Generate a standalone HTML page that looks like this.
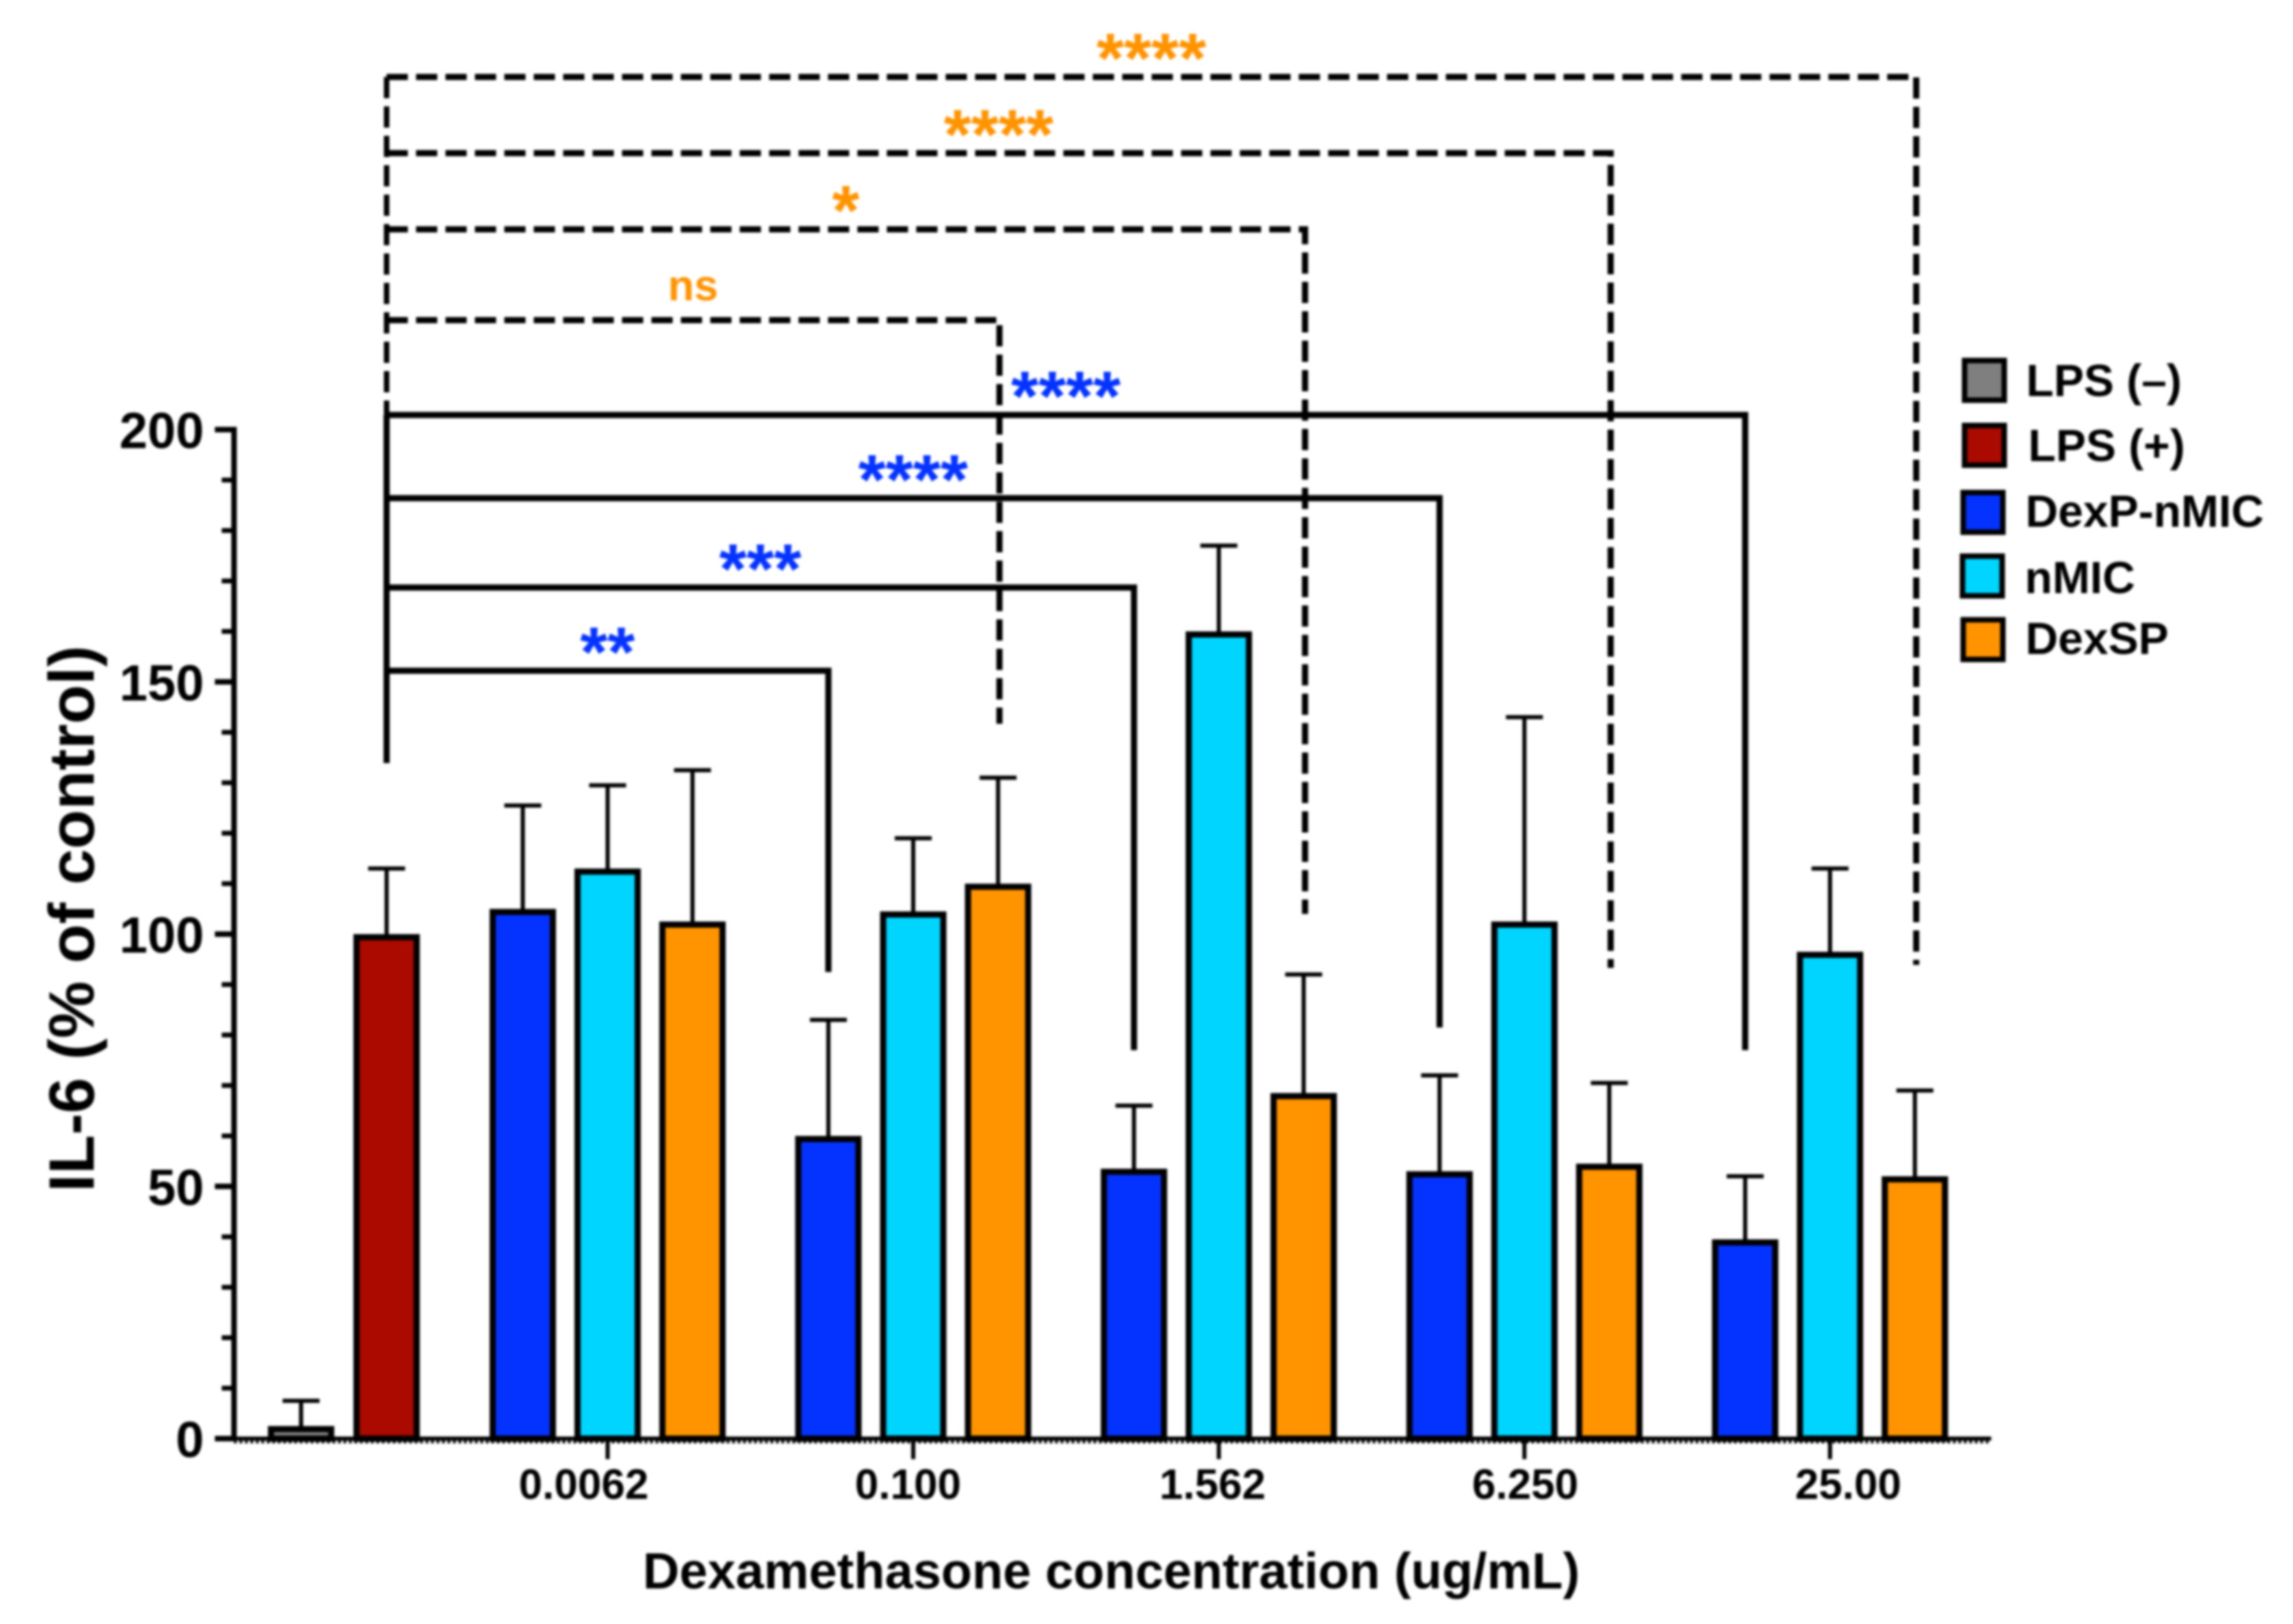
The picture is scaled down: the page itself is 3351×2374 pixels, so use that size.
<!DOCTYPE html>
<html lang="en">
<head>
<meta charset="utf-8">
<title>IL-6 bar chart</title>
<style>
html,body{margin:0;padding:0;background:#fff;}
svg{display:block;filter:blur(1.8px);}
text{font-family:"Liberation Sans",Arial,sans-serif;font-weight:bold;fill:#000;}
</style>
</head>
<body>
<svg id="chart" xmlns="http://www.w3.org/2000/svg" width="3351" height="2374" viewBox="0 0 3351 2374">
  <rect x="0" y="0" width="3351" height="2374" fill="#fff"/>
  <g id="bars"></g>
  <g id="axes"></g>
  <g id="brackets"></g>

  <text transform="translate(137,1343) rotate(-90)" text-anchor="middle" font-size="94">IL-6 (% of control)</text>
  <text x="1624" y="2322" text-anchor="middle" font-size="74">Dexamethasone concentration (ug/mL)</text>

  <text x="853" y="2191" text-anchor="middle" font-size="62">0.0062</text>
  <text x="1327" y="2191" text-anchor="middle" font-size="62">0.100</text>
  <text x="1772" y="2191" text-anchor="middle" font-size="62">1.562</text>
  <text x="2229" y="2191" text-anchor="middle" font-size="62">6.250</text>
  <text x="2701" y="2191" text-anchor="middle" font-size="62">25.00</text>

  <g>
    <g>
      <rect x="2871" y="527" width="58" height="58" fill="#7f7f7f" stroke="#000" stroke-width="8"/>
      <text x="2961" y="579" font-size="66">LPS (–)</text>
    </g>
    <g>
      <rect x="2871" y="622" width="58" height="58" fill="#aa0a00" stroke="#000" stroke-width="8"/>
      <text x="2964" y="674" font-size="66">LPS (+)</text>
    </g>
    <g>
      <rect x="2869" y="720" width="58" height="58" fill="#0433ff" stroke="#000" stroke-width="8"/>
      <text x="2960" y="770" font-size="66">DexP-nMIC</text>
    </g>
    <g>
      <rect x="2868" y="813" width="58" height="58" fill="#00d5ff" stroke="#000" stroke-width="8"/>
      <text x="2959" y="867" font-size="66">nMIC</text>
    </g>
    <g>
      <rect x="2869" y="906" width="58" height="58" fill="#ff9300" stroke="#000" stroke-width="8"/>
      <text x="2960" y="956" font-size="66">DexSP</text>
    </g>
  </g>
</svg>
<script>
// ---- data ----
const concentrations = ["0.0062", "0.100", "1.562", "6.250", "25.00"];
const controlNames = ["lps-negative", "lps-positive"];
const controlValues = [2.5, 100];
const controlErrors = [5, 13];
const dexpValues = [105, 60, 53.5, 53, 39.5];
const dexpErrors = [20.5, 23, 12.5, 19, 12.5];
const nmicValues = [113, 104.5, 160, 102.5, 96.5];
const nmicErrors = [16.5, 14.5, 17, 40.5, 16.5];
const dexspValues = [102.5, 110, 68.5, 54.5, 52];
const dexspErrors = [30, 21, 23.5, 16, 17];
const yTickLabels = [0, 50, 100, 150, 200];
const yMinorTicks = [10, 20, 30, 40, 60, 70, 80, 90, 110, 120, 130, 140, 160, 170, 180, 190];
// bracket heights and drop ends, in y-axis units
const solidLevels = [152.2, 168.7, 186.4, 202.9];
const solidDrops = [92.5, 77, 81.5, 77];
const solidLabels = ["**", "***", "****", "****"];
const dashedLevels = [221.7, 239.7, 254.8, 269.9];
const dashedDrops = [141.7, 104, 93.3, 93.9];
const dashedLabels = ["ns", "*", "****", "****"];
const bracketStartValue = 133.9;

// ---- scales ----
const NS = "http://www.w3.org/2000/svg";
const Y0 = 2103, UNIT = 7.375;
function yScale(v) { return Y0 - v * UNIT; }
function controlX(i) { return 440 + i * 125; }
function groupX(g, s) { return 764 + g * 446.6 + s * 124; }
const BAR_W = 88, CAP = 27, BAR_STROKE = 9, LINE_W = 9;

function make(parent, tag, attrs) {
  const el = document.createElementNS(NS, tag);
  for (const k in attrs) el.setAttribute(k, attrs[k]);
  parent.appendChild(el);
  return el;
}

const barsG = document.getElementById("bars");
const axesG = document.getElementById("axes");
const brG = document.getElementById("brackets");

function drawBar(cx, value, err, fill, name) {
  const top = yScale(value) + BAR_STROKE / 2, errTop = yScale(value + err);
  const stem = make(barsG, "line", {x1: cx, x2: cx, y1: top, y2: errTop, stroke: "#000", "stroke-width": 6});
  
  
  const cap = make(barsG, "line", {x1: cx - CAP, x2: cx + CAP, y1: errTop, y2: errTop, stroke: "#000", "stroke-width": 6});
  
  
  const bar = make(barsG, "rect", {x: cx - BAR_W / 2, y: top, width: BAR_W, height: Math.max(0, Y0 - top), fill: fill, stroke: "#000", "stroke-width": BAR_STROKE});
  
  
}

const controlFills = ["#7f7f7f", "#aa0a00"];
controlValues.forEach(function (v, i) {
  drawBar(controlX(i), v, controlErrors[i], controlFills[i], controlNames[i]);
});
concentrations.forEach(function (c, g) {
  drawBar(groupX(g, 0), dexpValues[g], dexpErrors[g], "#0433ff", "dexp-nmic-" + c);
  drawBar(groupX(g, 1), nmicValues[g], nmicErrors[g], "#00d5ff", "nmic-" + c);
  drawBar(groupX(g, 2), dexspValues[g], dexspErrors[g], "#ff9300", "dexsp-" + c);
});

// ---- axes ----
const yAxisLine = make(axesG, "line", {x1: 342, x2: 342, y1: yScale(200) - 4, y2: Y0 + 4, stroke: "#000", "stroke-width": 8});


const xAxisLine = make(axesG, "line", {x1: 314, x2: 2910, y1: Y0, y2: Y0, stroke: "#000", "stroke-width": 6});


const baseDots = make(axesG, "line", {x1: 342, x2: 2910, y1: Y0 + 5, y2: Y0 + 5, stroke: "#000", "stroke-width": 4, "stroke-dasharray": "4 4"});



yTickLabels.forEach(function (t) {
  const tick = make(axesG, "line", {x1: 314, x2: 342, y1: yScale(t), y2: yScale(t), stroke: "#000", "stroke-width": 8});
  
  
  const label = make(axesG, "text", {x: 298, y: yScale(t) + 27, "text-anchor": "end", "font-size": 74});
  label.textContent = String(t);
  
  
});
yMinorTicks.forEach(function (t) {
  const tick = make(axesG, "line", {x1: 324, x2: 342, y1: yScale(t), y2: yScale(t), stroke: "#000", "stroke-width": 7});
  
  
});
concentrations.forEach(function (c, g) {
  const tx = groupX(g, 1);
  const tick = make(axesG, "line", {x1: tx, x2: tx, y1: Y0, y2: 2133, stroke: "#000", "stroke-width": 6});
  
  
});

// ---- significance brackets ----
function drawBracket(targetX, level, drop, label, dashed, color, name) {
  const startX = controlX(1), ly = yScale(level);
  const attrs = {d: "M" + startX + " " + ly + " H" + targetX + " V" + yScale(drop), fill: "none", stroke: "#000", "stroke-width": LINE_W};
  if (dashed) attrs["stroke-dasharray"] = "31 12";
  const path = make(brG, "path", attrs);
  
  
  const mid = (startX + targetX) / 2;
  const isStars = label.charAt(0) === "*";
  const txt = make(brG, "text", {
    x: mid,
    y: isStars ? ly + 8 : ly - 29,
    "text-anchor": "middle",
    "font-size": isStars ? 103 : 63
  });
  txt.textContent = label;
  txt.style.fill = color;
  
  
}

const startDashed = make(brG, "line", {
  x1: controlX(1), x2: controlX(1),
  y1: yScale(dashedLevels[3]), y2: yScale(solidLevels[3]),
  stroke: "#000", "stroke-width": LINE_W - 1, "stroke-dasharray": "31 12"
});


const startSolid = make(brG, "line", {
  x1: controlX(1), x2: controlX(1),
  y1: yScale(solidLevels[3]), y2: yScale(bracketStartValue),
  stroke: "#000", "stroke-width": LINE_W
});



solidLevels.forEach(function (lv, i) {
  drawBracket(groupX(i + 1, 0), lv, solidDrops[i], solidLabels[i], false, "#0433ff", "dexp-nmic-" + concentrations[i + 1]);
});
dashedLevels.forEach(function (lv, i) {
  drawBracket(groupX(i + 1, 2) + 2, lv, dashedDrops[i], dashedLabels[i], true, "#ff9300", "dexsp-" + concentrations[i + 1]);
});
</script>
</body>
</html>
